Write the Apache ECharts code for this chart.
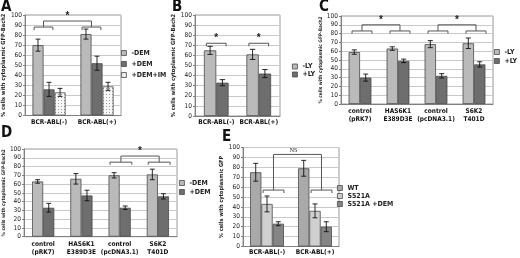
<!DOCTYPE html>
<html><head><meta charset="utf-8">
<script src="https://cdn.jsdelivr.net/npm/echarts@6/dist/echarts.min.js"></script>
<style>html,body{margin:0;padding:0;background:#fff}#c{width:520px;height:258px}</style>
</head><body><div id="c"></div>
<script>
// ---------- data ----------
const yTicksStep = 10;
// Panel A
const catsA = ['BCR-ABL(-)', 'BCR-ABL(+)'];
const aMinusDEM = [70, 81], aMinusDEMErr = [6, 5];
const aPlusDEM = [26, 52], aPlusDEMErr = [7, 7];
const aPlusDEMIM = [23, 29], aPlusDEMIMErr = [4, 4];
// Panel B
const catsB = ['BCR-ABL(-)', 'BCR-ABL(+)'];
const bMinusLY = [65, 61], bMinusLYErr = [4, 5];
const bPlusLY = [33, 42], bPlusLYErr = [3, 4];
// Panel C
const catsC = ['control\n(pRK7)', 'HAS6K1\nE389D3E', 'control\n(pcDNA3.1)', 'S6K2\nT401D'];
const cMinusLY = [59, 63, 68, 69], cMinusLYErr = [2.5, 2, 4, 6];
const cPlusLY = [30, 49, 32, 45], cPlusLYErr = [4, 2, 2.5, 3];
// Panel D
const catsD = ['control\n(pRK7)', 'HAS6K1\nE389D3E', 'control\n(pcDNA3.1)', 'S6K2\nT401D'];
const dMinusDEM = [63, 66, 70, 71], dMinusDEMErr = [2, 6, 3, 6];
const dPlusDEM = [33, 47, 33, 46], dPlusDEMErr = [5, 6, 2, 3];
// Panel E
const catsE = ['BCR-ABL(-)', 'BCR-ABL(+)'];
const eWT = [75, 79], eWTErr = [9, 8];
const eS521A = [43, 36], eS521AErr = [8, 7];
const eS521ADEM = [23, 20], eS521ADEMErr = [2, 5];
// Significance brackets: [cat1, barPos1, cat2, barPos2, yTop, yBottom]
const bracketsA = [[0,-0.35,0,1.35,88,85],[1,-0.35,1,1.35,88,85],[0,0.5,1,0.5,94,88]];
const bracketLabelsA = ['', '', '*'];
const bracketsB = [[0,-0.3,0,1.3,72,69],[1,-0.3,1,1.3,72,69]];
const bracketLabelsB = ['*', '*'];
const bracketsC = [[0,-0.2,0,1.55,83,80],[1,-0.2,1,1.55,83,80],[2,-0.2,2,1.55,83,80],[3,-0.2,3,1.55,83,80],[0,0.675,1,0.675,90,83],[2,0.675,3,0.675,90,83]];
const bracketLabelsC = ['', '', '', '', '*', '*'];
const bracketsD = [[2,-0.37,2,1.6,85,82],[3,-0.37,3,1.6,85,82],[2,0.615,3,0.615,92,85]];
const bracketLabelsD = ['', '', '*'];
const bracketsE = [[0,0.65,0,2.5,57,54],[1,0.65,1,2.5,57,54],[0,1.575,1,1.575,93,57]];
const bracketLabelsE = ['', '', 'NS'];

// ---------- chart ----------
const NARROW = "'Liberation Sans Narrow','Arial Narrow','DejaVu Sans Condensed',sans-serif";
function dotPattern(){
  const c = document.createElement('canvas'); c.width = 3; c.height = 3;
  const x = c.getContext('2d'); x.fillStyle = '#f7f7f7'; x.fillRect(0,0,3,3);
  x.fillStyle = '#9a9a9a'; x.fillRect(1,1,1,1); return c;
}
const LIGHT = '#bababa', DARK = '#6e6e6e', EDGE = '#4a4a4a';

const panels = [
  {letter:'A', lx:1, ly:0, grid:{left:23, top:15, width:98, height:100.5}, cats:catsA, frac:0.23,
   series:[{name:'-DEM', d:aMinusDEM, e:aMinusDEMErr, color:LIGHT},{name:'+DEM', d:aPlusDEM, e:aPlusDEMErr, color:DARK},{name:'+DEM+IM', d:aPlusDEMIM, e:aPlusDEMIMErr, color:{image:dotPattern(), repeat:'repeat'}}],
   yname:'% cells with cytoplasmic GFP-Bach2', yfs:5.7, ygap:12, legend:{left:121, top:47.5, lh:11},
   brackets:bracketsA, blabels:bracketLabelsA, lm:3},
  {letter:'B', lx:172, ly:0, grid:{left:195, top:15, width:85, height:101}, cats:catsB, frac:0.29,
   series:[{name:'-LY', d:bMinusLY, e:bMinusLYErr, color:LIGHT},{name:'+LY', d:bPlusLY, e:bPlusLYErr, color:DARK}],
   yname:'% cells with cytoplasmic GFP-Bach2', yfs:5.7, ygap:16, legend:{left:292, top:62.5, lh:8},
   brackets:bracketsB, blabels:bracketLabelsB, lm:3},
  {letter:'C', lx:319, ly:0, grid:{left:341, top:16, width:152, height:88}, cats:catsC, frac:0.30,
   series:[{name:'-LY', d:cMinusLY, e:cMinusLYErr, color:LIGHT},{name:'+LY', d:cPlusLY, e:cPlusLYErr, color:DARK}],
   yname:'% cells with cytoplasmic GFP-Bach2', yfs:4.8, ygap:15.5, legend:{left:494, top:47.5, lh:9},
   brackets:bracketsC, blabels:bracketLabelsC, lm:4},
  {letter:'D', lx:1, ly:126, grid:{left:23, top:149, width:154, height:87.7}, cats:catsD, frac:0.29,
   series:[{name:'-DEM', d:dMinusDEM, e:dMinusDEMErr, color:LIGHT},{name:'+DEM', d:dPlusDEM, e:dPlusDEMErr, color:DARK}],
   yname:'% cells with cytoplasmic GFP-Bach2', yfs:4.8, ygap:12.5, legend:{left:179, top:178.5, lh:9},
   brackets:bracketsD, blabels:bracketLabelsD, lm:4},
  {letter:'E', lx:222, ly:130, grid:{left:243, top:147.5, width:96, height:99}, cats:catsE, frac:0.235,
   series:[{name:'WT', d:eWT, e:eWTErr, color:'#a9a9a9'},{name:'S521A', d:eS521A, e:eS521AErr, color:'#d0d0d0'},{name:'S521A +DEM', d:eS521ADEM, e:eS521ADEMErr, color:'#858585'}],
   yname:'% cells with cytoplasmic GFP', yfs:5.6, ygap:10.5, legend:{left:337, top:184, lh:8},
   brackets:bracketsE, blabels:bracketLabelsE, lm:2}
];

const option = {animation:false, backgroundColor:'#fff', title:[], grid:[], xAxis:[], yAxis:[], legend:[], series:[]};
panels.forEach((p, gi) => {
  option.title.push({text:p.letter, left:p.lx, top:p.ly, padding:0,
    textStyle:{fontSize:15, fontWeight:'bold', fontFamily:NARROW, color:'#111'}});
  option.grid.push(Object.assign({show:true, borderColor:'#9a9a9a', borderWidth:1, backgroundColor:'#fff', containLabel:false}, p.grid));
  option.xAxis.push({type:'category', gridIndex:gi, data:p.cats,
    axisTick:{show:false}, axisLine:{lineStyle:{color:'#808080'}},
    axisLabel:{interval:0, fontFamily:NARROW, fontSize:6.5, fontWeight:'bold', color:'#111', margin:p.lm, lineHeight:7.5}});
  option.yAxis.push({type:'value', gridIndex:gi, min:0, max:100, interval:yTicksStep,
    axisLine:{show:true, lineStyle:{color:'#808080'}}, axisTick:{show:true, length:2, lineStyle:{color:'#808080'}},
    splitLine:{lineStyle:{color:'#c9c9c9', width:1}},
    axisLabel:{fontFamily:NARROW, fontSize:6.5, color:'#222', margin:3},
    name:p.yname, nameLocation:'middle', nameRotate:90, nameGap:p.ygap,
    nameTextStyle:{fontFamily:NARROW, fontSize:p.yfs, fontWeight:'bold', color:'#222'}});
  option.legend.push({orient:'vertical', left:p.legend.left, top:p.legend.top, padding:0, itemGap:0,
    itemWidth:5, itemHeight:5, icon:'rect', selectedMode:false,
    data:p.series.map(s=>s.name),
    itemStyle:{borderColor:EDGE, borderWidth:0.8},
    textStyle:{fontFamily:NARROW, fontSize:7, fontWeight:'bold', color:'#222', lineHeight:p.legend.lh}});
  const n = p.series.length, frac = p.frac;
  p.series.forEach((s, j) => {
    option.series.push({type:'bar', name:s.name, xAxisIndex:gi, yAxisIndex:gi, data:s.d,
      barWidth:(frac*100)+'%', barGap:'0%', silent:true,
      itemStyle:{color:s.color, borderColor:EDGE, borderWidth:0.8}});
    option.series.push({type:'custom', xAxisIndex:gi, yAxisIndex:gi, silent:true, z:5,
      data:s.d.map((v,i)=>[i, v, s.e[i]]),
      renderItem:(params, api) => {
        const c = api.value(0), v = api.value(1), e = api.value(2);
        const bw = api.size([1,0])[0]*frac;
        const off = (j-(n-1)/2)*bw;
        const t = api.coord([c, v+e]), b = api.coord([c, v-e]);
        const x = t[0]+off, cap = bw*0.22;
        const st = {stroke:'#111', lineWidth:0.9};
        return {type:'group', children:[
          {type:'line', shape:{x1:x, y1:t[1], x2:x, y2:b[1]}, style:st},
          {type:'line', shape:{x1:x-cap, y1:t[1], x2:x+cap, y2:t[1]}, style:st},
          {type:'line', shape:{x1:x-cap, y1:b[1], x2:x+cap, y2:b[1]}, style:st}]};
      }});
  });
  option.series.push({type:'custom', xAxisIndex:gi, yAxisIndex:gi, silent:true, z:6, clip:false,
    encode:{x:0, y:4},
    data:p.brackets,
    renderItem:(params, api) => {
      const bw = api.size([1,0])[0]*frac;
      const px = (cat, pos) => api.coord([cat, 0])[0] + (pos-(n-1)/2)*bw;
      const x1 = px(api.value(0), api.value(1)), x2 = px(api.value(2), api.value(3));
      const yT = api.coord([0, api.value(4)])[1], yB = api.coord([0, api.value(5)])[1];
      const children = [{type:'polyline', shape:{points:[[x1,yB],[x1,yT],[x2,yT],[x2,yB]]},
        style:{stroke:'#555', lineWidth:1, fill:null}}];
      const lab = p.blabels[params.dataIndex];
      if (lab) {
        const isNS = lab === 'NS';
        children.push({type:'text', x:(x1+x2)/2 - (isNS?4:0), y:yT-(isNS?1:0),
          style:{text:lab, align:'center', verticalAlign:'bottom', fill:'#222',
            font: isNS ? "normal 6px 'Liberation Serif',serif" : "bold 10px 'Liberation Sans',sans-serif"}});
      }
      return {type:'group', children};
    }});
});

const chart = echarts.init(document.getElementById('c'), null, {renderer:'canvas'});
chart.setOption(option);
</script></body></html>
